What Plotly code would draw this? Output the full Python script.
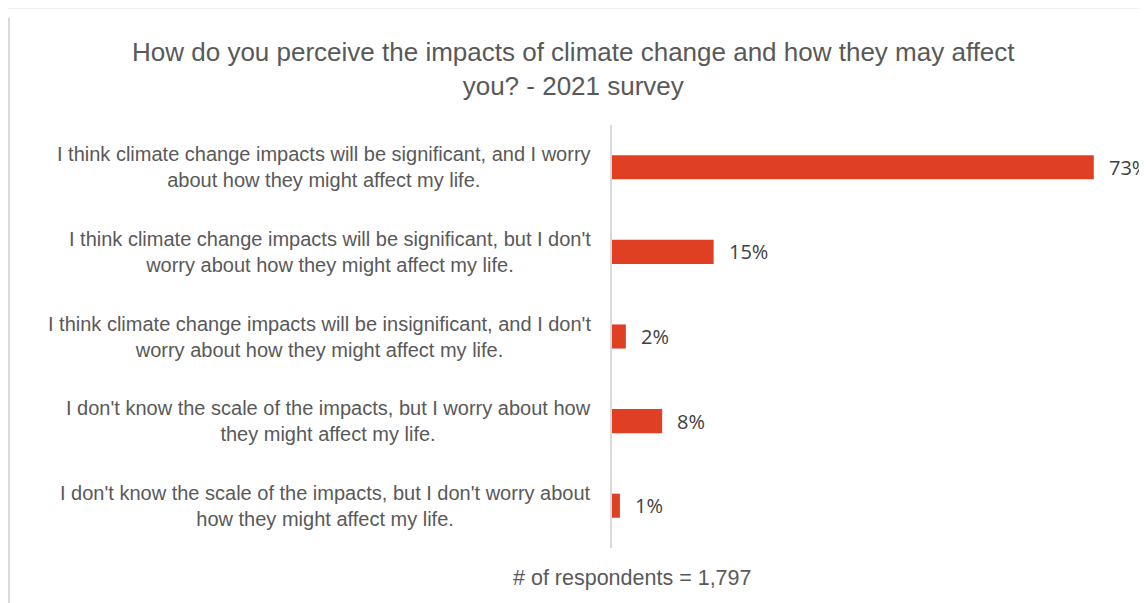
import plotly.graph_objects as go

categories = [
    "I think climate change impacts will be significant, and I worry<br>about how they might affect my life.",
    "I think climate change impacts will be significant, but I don't<br>worry about how they might affect my life.",
    "I think climate change impacts will be insignificant, and I don't<br>worry about how they might affect my life.",
    "I don't know the scale of the impacts, but I worry about how<br>they might affect my life.",
    "I don't know the scale of the impacts, but I don't worry about<br>how they might affect my life.",
]
values = [73.0, 15.4, 2.1, 7.6, 1.2]
value_labels = ["73%", "15%", "2%", "8%", "1%"]
title_text = "How do you perceive the impacts of climate change and how they may affect<br>you? - 2021 survey"
footer_text = "# of respondents = 1,797"

# page renders the figure with an 8px body margin
OFF = 8
W, H = 1147 - OFF, 603 - OFF
L, T = 612 - OFF, 125 - OFF
B = H - (548 - OFF)
R = 0
pw = W - L - R
ph = H - T - B
label_font = "Liberation Sans, Arial, sans-serif"
text_grey = "#595959"

fig = go.Figure()
fig.add_trace(go.Bar(
    y=categories, x=values, orientation="h",
    marker=dict(color="#DF4023", line=dict(width=0)),
    width=0.285, hoverinfo="skip",
))

annotations = []
for c, v, t in zip(categories, values, value_labels):
    annotations.append(dict(x=v, y=c, xref="x", yref="y", text=t, showarrow=False,
                            xanchor="left", yanchor="middle", xshift=13,
                            font=dict(family="Open Sans, sans-serif", size=20, color="#404040")))
    annotations.append(dict(x=0, y=c, xref="paper", yref="y", text=c, showarrow=False,
                            xanchor="right", yanchor="middle", xshift=-19, align="center",
                            font=dict(family=label_font, size=20, color=text_grey)))

annotations.append(dict(x=(573 - OFF - L) / pw, y=1, xref="paper", yref="paper",
                        yshift=T - (69 - OFF), yanchor="middle", showarrow=False, text=title_text,
                        align="center", xanchor="center",
                        font=dict(family=label_font, size=26, color=text_grey)))
annotations.append(dict(x=(632 - OFF - L) / pw, y=0, xref="paper", yref="paper",
                        yshift=-30, yanchor="middle", xanchor="center", showarrow=False,
                        text=footer_text,
                        font=dict(family=label_font, size=21.5, color=text_grey)))

fig.update_layout(
    width=W, height=H,
    margin=dict(l=L, r=R, t=T, b=B),
    paper_bgcolor="white", plot_bgcolor="white",
    showlegend=False,
    annotations=annotations,
    shapes=[
        dict(type="line", xref="paper", yref="paper",
             x0=(1 - L) / pw, x1=(1 - L) / pw, y0=(H - 10 - B) / ph, y1=-B / ph,
             line=dict(color="#d9d9d9", width=2)),
        dict(type="line", xref="paper", yref="paper",
             x0=(0 - L) / pw, x1=(W - L) / pw, y0=(H - 0.5 - B) / ph, y1=(H - 0.5 - B) / ph,
             line=dict(color="#f0f0f0", width=1)),
    ],
)
fig.update_xaxes(range=[0, pw / 6.6], showgrid=False, zeroline=False, showticklabels=False,
                 showline=False, fixedrange=True)
fig.update_yaxes(autorange="reversed", showticklabels=False, showgrid=False,
                 showline=True, linecolor="#d9d9d9", linewidth=2, ticks="", fixedrange=True)

fig.write_html("out.html")
